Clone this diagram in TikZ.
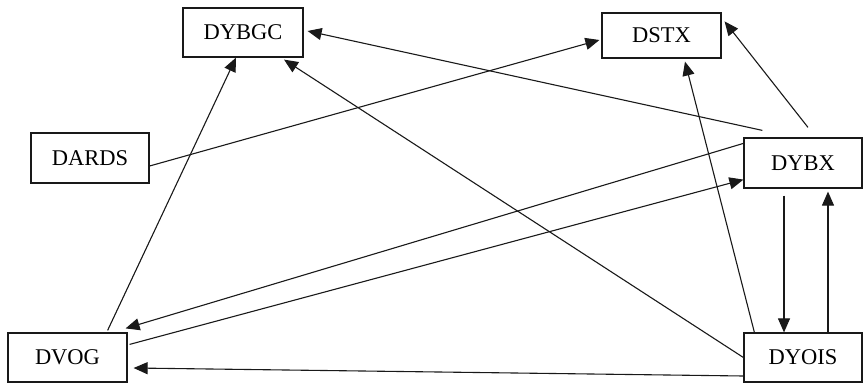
\documentclass[tikz,border=0pt]{standalone}
\usepackage{fontspec}
\setmainfont{Liberation Serif}
\usetikzlibrary{arrows.meta}
\begin{document}
\begin{tikzpicture}[x=1pt,y=-1pt,
  box/.style={draw=black!90, line width=1.2pt, inner sep=0pt, font=\fontsize{22.5}{24}\selectfont},
  conn/.style={draw=black!90, line width=1.1pt, -{Triangle[length=14pt,width=12pt]}}]
\useasboundingbox (0,0) rectangle (863,383);
\node[box, minimum width=120pt, minimum height=49pt] (dybgc) at (243,32.5) {DYBGC};
\node[box, minimum width=119pt, minimum height=45pt] (dstx) at (661.5,35.5) {DSTX};
\node[box, minimum width=118pt, minimum height=50pt] (dards) at (90,158) {DARDS};
\node[box, minimum width=118pt, minimum height=50pt] (dybx) at (803,163) {DYBX};
\node[box, minimum width=119pt, minimum height=49pt] (dvog) at (67.5,357.5) {DVOG};
\node[box, minimum width=118pt, minimum height=49pt] (dyois) at (803,357.5) {DYOIS};
% connectors
\draw[conn] ([xshift=19pt,yshift=7pt]dybx.north west) -- ([xshift=4pt,yshift=1.5pt]dybgc.east);
\draw[conn] ([yshift=-8pt]dards.east) -- ([xshift=-2pt,yshift=-4.5pt]dstx.west);
\draw[conn] ([xshift=5pt,yshift=10pt]dybx.north) -- ([xshift=3pt,yshift=-9pt]dstx.north east);
\draw[conn] ([xshift=11pt]dyois.north west) -- ([xshift=23.5pt,yshift=-3pt]dstx.south);
\draw[conn] (dyois.west) -- ([xshift=41pt,yshift=-2pt]dybgc.south);
\draw[conn] ([xshift=-20pt,yshift=2pt]dvog.north east) -- ([xshift=-7pt]dybgc.south);
\draw[conn] ([yshift=-6pt]dybx.north west) -- ([xshift=-2pt,yshift=4pt]dvog.north east);
\draw[conn] ([xshift=2pt,yshift=-12pt]dvog.north east) -- ([yshift=9pt]dybx.south west);
\draw[conn] ([xshift=-19pt,yshift=-7pt]dybx.south) -- ([xshift=-19pt]dyois.north);
\draw[conn] ([xshift=25pt]dyois.north) -- ([xshift=25pt,yshift=-3pt]dybx.south);
\draw[conn] ([yshift=-18.5pt]dyois.west) -- ([xshift=6pt,yshift=-10.5pt]dvog.east);
\end{tikzpicture}
\end{document}
